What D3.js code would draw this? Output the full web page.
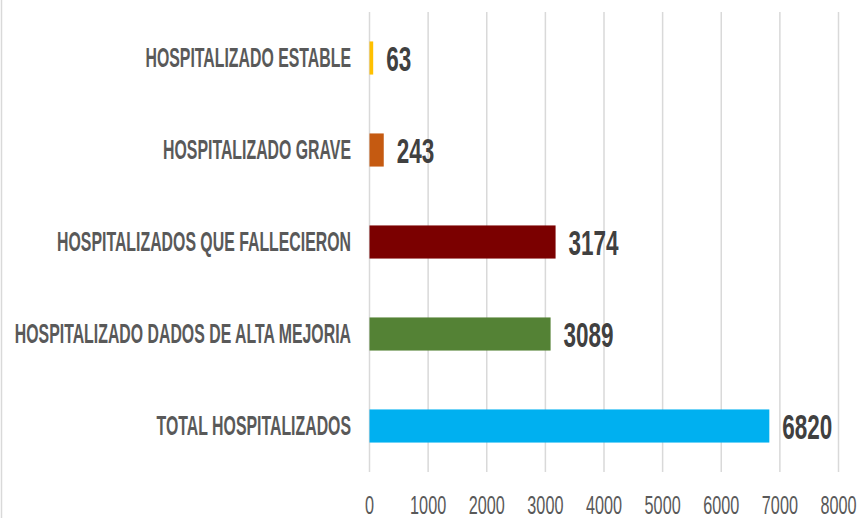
<!DOCTYPE html>
<html>
<head>
<meta charset="utf-8">
<script src="https://cdn.jsdelivr.net/npm/d3@7"></script>
<style>
  html, body { margin: 0; padding: 0; background: #fff; }
  svg { display: block; }
</style>
</head>
<body>
<svg id="chart" width="861" height="518"></svg>
<script>
// Hospitalization status counts
const categories = [
  "HOSPITALIZADO ESTABLE",
  "HOSPITALIZADO GRAVE",
  "HOSPITALIZADOS QUE FALLECIERON",
  "HOSPITALIZADO DADOS DE ALTA MEJORIA",
  "TOTAL HOSPITALIZADOS"
];
const values = [63, 243, 3174, 3089, 6820];
const barColors = ["#FFC000", "#C55A11", "#7B0000", "#548235", "#00B0F0"];
const tickValues = [0, 1000, 2000, 3000, 4000, 5000, 6000, 7000, 8000];

const svg = d3.select("#chart");
const W = 861, H = 518;
const plot = { left: 369.5, right: 838.5, top: 12, bottom: 472 };
// Liberation Sans squeezed horizontally stands in for a narrow face
const font = "'Liberation Sans', Arial, sans-serif";

const x = d3.scaleLinear().domain([0, 8000]).range([plot.left, plot.right]);
const y = d3.scaleBand().domain(categories).range([plot.top, plot.bottom])
  .paddingInner(0.64).paddingOuter(0.32);

// outer frame edge on the left
svg.append("line")
  .attr("x1", 1.5).attr("x2", 1.5).attr("y1", 0).attr("y2", H)
  .attr("stroke", "#d9d9d9").attr("stroke-width", 1.5);

// vertical gridlines
svg.append("g").selectAll("line").data(tickValues).join("line")
  .attr("x1", d => x(d)).attr("x2", d => x(d))
  .attr("y1", plot.top).attr("y2", plot.bottom)
  .attr("stroke", "#d9d9d9").attr("stroke-width", 1.5);

// bars
svg.append("g").selectAll("rect").data(values).join("rect")
  .attr("x", x(0))
  .attr("y", (d, i) => y(categories[i]))
  .attr("width", d => x(d) - x(0))
  .attr("height", y.bandwidth())
  .attr("fill", (d, i) => barColors[i]);

// category labels
svg.append("g").selectAll("text").data(categories).join("text")
  .attr("transform", d => `translate(351,${y(d) + y.bandwidth() / 2 + 8.5}) scale(0.835,1.43)`)
  .attr("text-anchor", "end")
  .attr("font-family", font)
  .attr("font-weight", "bold")
  .attr("font-size", 19)
  .attr("fill", "#595959")
  .text(d => d);

// value labels
svg.append("g").selectAll("text").data(values).join("text")
  .attr("transform", (d, i) => `translate(${x(d) + 13},${y(categories[i]) + y.bandwidth() / 2 + 12.5}) scale(0.865,1.35)`)
  .attr("font-family", font)
  .attr("font-weight", "bold")
  .attr("font-size", 26)
  .attr("fill", "#404040")
  .text(d => d);

// x axis tick labels
svg.append("g").selectAll("text").data(tickValues).join("text")
  .attr("transform", d => `translate(${x(d)},514) scale(0.9,1.4)`)
  .attr("text-anchor", "middle")
  .attr("font-family", font)
  .attr("font-size", 18)
  .attr("fill", "#595959")
  .text(d => d);
</script>
</body>
</html>
